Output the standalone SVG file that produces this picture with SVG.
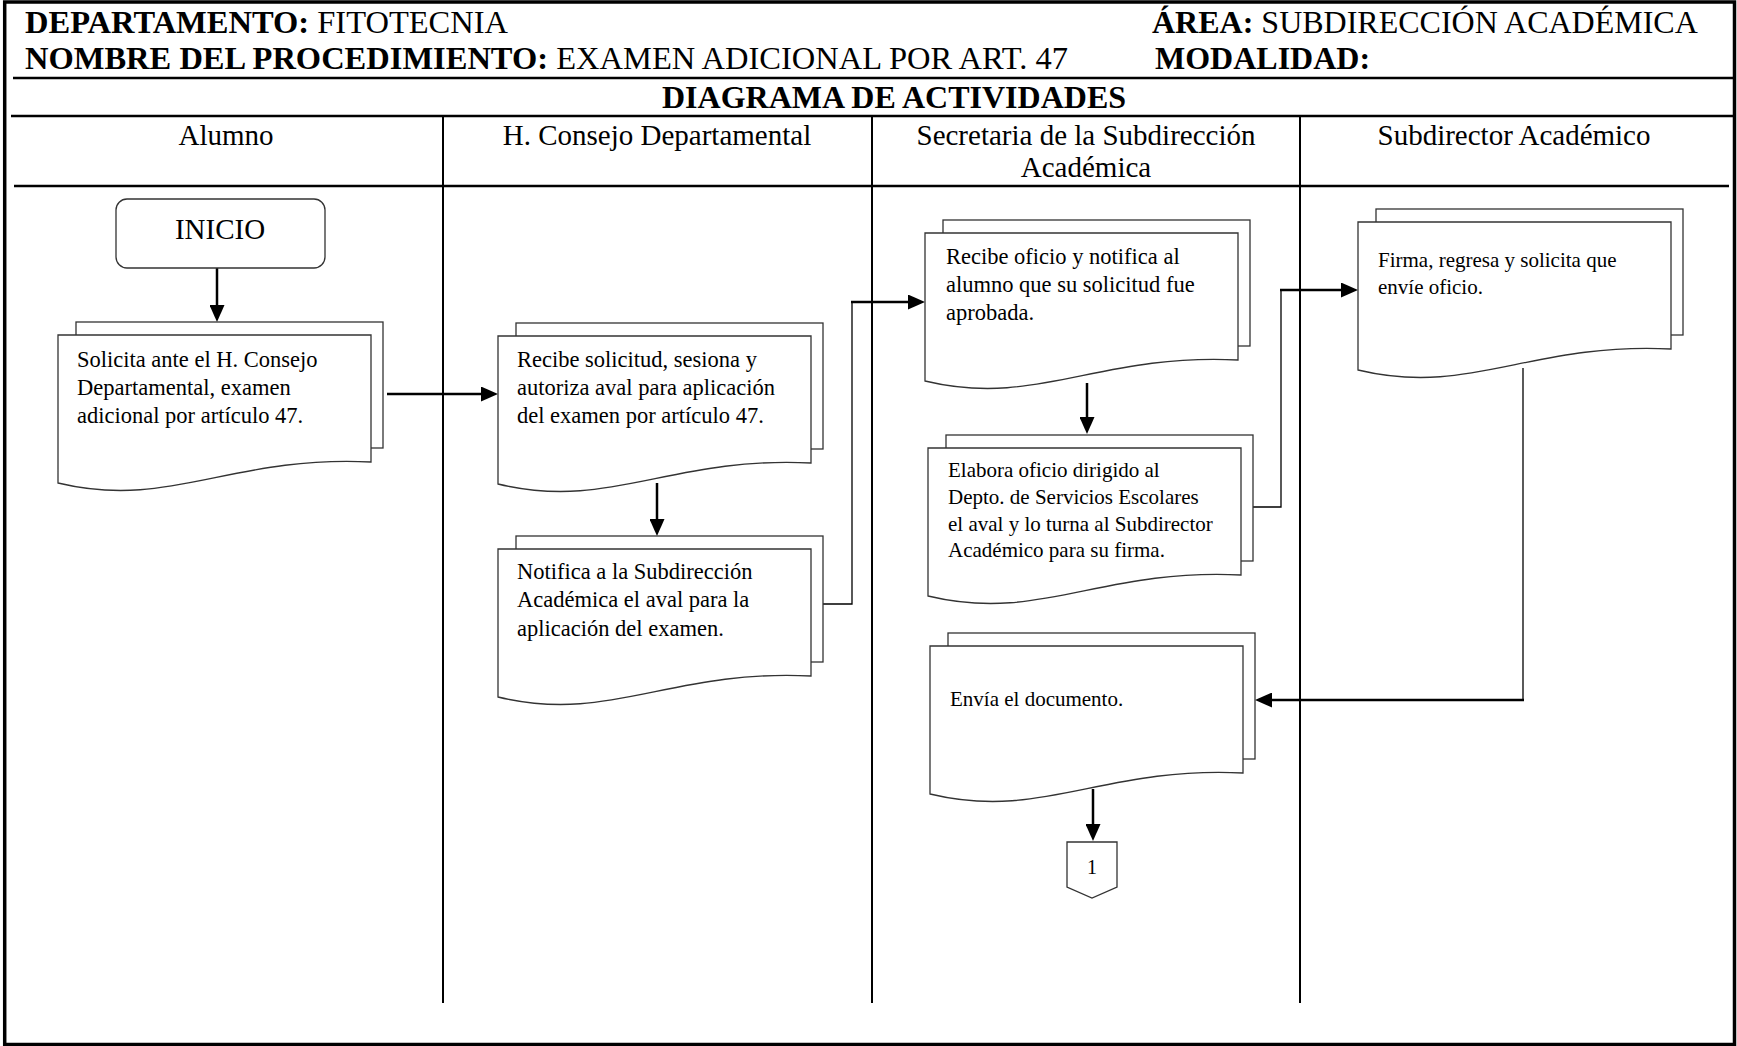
<svg xmlns="http://www.w3.org/2000/svg" xmlns:xlink="http://www.w3.org/1999/xlink" width="1737" height="1046" viewBox="0 0 1737 1046">
<style>
  text { font-family: "Liberation Serif", "Times New Roman", serif; fill: #000; }
  .hdr { font-size: 32px; }
  .hdrl { font-size: 32.5px; }
  .b { font-weight: bold; }
  .lane { font-size: 29px; text-anchor: middle; }
  .frame { fill: none; stroke: #000; stroke-width: 3.5; }
  .hline { stroke: #000; stroke-width: 2.5; fill: none; }
  .vline { stroke: #000; stroke-width: 2; fill: none; }
  .shape { fill: #fff; stroke: #333; stroke-width: 1.3; }
  .t1 { font-size: 22.5px; }
  .t2 { font-size: 21px; }
  .con { fill: none; stroke: #000; stroke-width: 2.5; }
  .thin { fill: none; stroke: #000; stroke-width: 1.3; }
</style>
<defs>
  <marker id="arrow" markerUnits="userSpaceOnUse" markerWidth="17" markerHeight="15" refX="12" refY="7.5" orient="auto">
    <path d="M0,0 L17,7.5 L0,15 Z" fill="#000"/>
  </marker>
  <g id="doc">
    <rect class="shape" x="18" y="-13" width="307" height="126"/>
    <path class="shape" d="M0,0 H313 V127 C172,120 112,175 0,148 Z"/>
  </g>
</defs>
<rect width="1737" height="1046" fill="#fff"/>

<g id="frame">
  <rect class="frame" x="4.7" y="2" width="1729.8" height="1042.5"/>
  <line class="hline" x1="13" y1="78" x2="1734" y2="78"/>
  <line class="hline" x1="11" y1="116" x2="1734" y2="116"/>
  <line class="hline" x1="14" y1="186" x2="1729" y2="186"/>
  <line class="vline" x1="443" y1="116" x2="443" y2="1003"/>
  <line class="vline" x1="872" y1="116" x2="872" y2="1003"/>
  <line class="vline" x1="1300" y1="116" x2="1300" y2="1003"/>
</g>

<g id="header">
  <text class="hdrl" x="25" y="33"><tspan class="b">DEPARTAMENTO:</tspan> FITOTECNIA</text>
  <text class="hdr" x="1152" y="33"><tspan class="b">ÁREA:</tspan> SUBDIRECCIÓN ACADÉMICA</text>
  <text class="hdrl" x="25" y="69"><tspan class="b">NOMBRE DEL PROCEDIMIENTO:</tspan> EXAMEN ADICIONAL POR ART. 47</text>
  <text class="hdr b" x="1155" y="69">MODALIDAD:</text>
  <text class="hdr b" x="894" y="108" text-anchor="middle">DIAGRAMA DE ACTIVIDADES</text>
</g>

<g id="lanes">
  <text class="lane" x="226" y="145">Alumno</text>
  <text class="lane" x="657" y="145">H. Consejo Departamental</text>
  <text class="lane" x="1086" y="145">Secretaria de la Subdirección</text>
  <text class="lane" x="1086" y="177">Académica</text>
  <text class="lane" x="1514" y="145">Subdirector Académico</text>
</g>

<g id="connectors">
  <path class="con" d="M217,268 V317" marker-end="url(#arrow)"/>
  <path class="con" d="M387,394 H493" marker-end="url(#arrow)"/>
  <path class="con" d="M657,483 V531" marker-end="url(#arrow)"/>
  <path class="thin" d="M823,604 H852 V302"/>
  <path class="con" d="M851,302 H920" marker-end="url(#arrow)"/>
  <path class="con" d="M1087,383 V429" marker-end="url(#arrow)"/>
  <path class="thin" d="M1253,507 H1281 V290"/>
  <path class="con" d="M1280,290 H1353" marker-end="url(#arrow)"/>
  <path class="thin" d="M1523,368 V700"/>
  <path class="con" d="M1524,700 H1260" marker-end="url(#arrow)"/>
  <path class="con" d="M1093,789 V836" marker-end="url(#arrow)"/>
</g>

<g id="inicio">
  <rect class="shape" x="116" y="199" width="209" height="69" rx="11" ry="11"/>
  <text class="lane" x="220" y="239">INICIO</text>
</g>

<g id="solicita">
  <use xlink:href="#doc" x="58" y="335"/>
  <text class="t1" x="77" y="367">Solicita ante el H. Consejo</text>
  <text class="t1" x="77" y="395">Departamental, examen</text>
  <text class="t1" x="77" y="423">adicional por artículo 47.</text>
</g>

<g id="recibe-solicitud">
  <use xlink:href="#doc" x="498" y="336"/>
  <text class="t1" x="517" y="367">Recibe solicitud, sesiona y</text>
  <text class="t1" x="517" y="395">autoriza aval para aplicación</text>
  <text class="t1" x="517" y="423">del examen por artículo 47.</text>
</g>

<g id="notifica">
  <use xlink:href="#doc" x="498" y="549"/>
  <text class="t1" x="517" y="579">Notifica a la Subdirección</text>
  <text class="t1" x="517" y="607">Académica el aval para la</text>
  <text class="t1" x="517" y="636">aplicación del examen.</text>
</g>

<g id="recibe-oficio">
  <use xlink:href="#doc" x="925" y="233"/>
  <text class="t1" x="946" y="264">Recibe oficio y notifica al</text>
  <text class="t1" x="946" y="292">alumno que su solicitud fue</text>
  <text class="t1" x="946" y="320">aprobada.</text>
</g>

<g id="elabora">
  <use xlink:href="#doc" x="928" y="448"/>
  <text class="t2" x="948" y="477">Elabora oficio dirigido al</text>
  <text class="t2" x="948" y="504">Depto. de Servicios Escolares</text>
  <text class="t2" x="948" y="531">el aval y lo turna al Subdirector</text>
  <text class="t2" x="948" y="557">Académico para su firma.</text>
</g>

<g id="firma">
  <use xlink:href="#doc" x="1358" y="222"/>
  <text class="t2" x="1378" y="267">Firma, regresa y solicita que</text>
  <text class="t2" x="1378" y="294">envíe oficio.</text>
</g>

<g id="envia">
  <use xlink:href="#doc" x="930" y="646"/>
  <text class="t2" x="950" y="706">Envía el documento.</text>
</g>

<g id="conector-1">
  <polygon class="shape" points="1067,842 1117,842 1117,887 1092,898 1067,887"/>
  <text x="1092" y="874" font-size="20" text-anchor="middle" fill="#333">1</text>
</g>
</svg>
